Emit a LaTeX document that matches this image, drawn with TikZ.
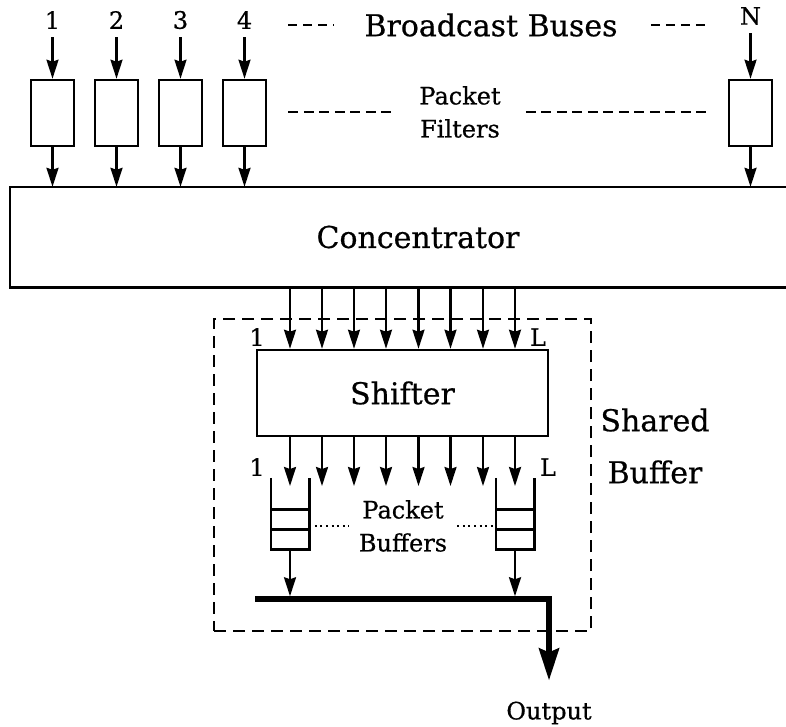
\documentclass[tikz,border=0pt]{standalone}
\usepackage{fontspec}
\setmainfont{DejaVu Serif}[FakeBold=0.6]
\usetikzlibrary{arrows.meta}
\begin{document}
\begin{tikzpicture}[x=1pt,y=-1pt,
  big/.style={font=\fontsize{30}{52}\selectfont, inner sep=0pt},
  small/.style={font=\fontsize{24}{33}\selectfont, inner sep=0pt, align=center},
  filterbox/.style={draw, line width=2.6pt, minimum width=43pt, minimum height=66pt, inner sep=0pt},
  arr/.style={line width=2.3pt, -{Stealth[length=19pt,width=12pt,inset=2pt]}},
  dashtop/.style={line width=2.6pt, dash pattern=on 9pt off 6pt},
  dashmid/.style={line width=2.6pt, dash pattern=on 10pt off 5.5pt},
  dotline/.style={line width=2.2pt, dash pattern=on 2pt off 3.6pt},
  bufbox/.style={minimum width=38pt, minimum height=71pt, inner sep=0pt},
  solid2/.style={line width=2.6pt},
  bus/.style={line width=5.5pt},
]
\useasboundingbox (0,0) rectangle (786,726);

% broadcast bus labels and packet filters
\foreach \i/\x in {1/52.5,2/116.5,3/180.5,4/244.5}{
  \node[small] (l\i) at (\x,20) {\i};
  \node[filterbox] (f\i) at (\x,113) {};
}
\node[small] (lN) at (750.5,16) {N};
\node[filterbox] (fN) at (750.5,113) {};
\node[big] (bb) at (491,25) {Broadcast Buses};
\node[small] (pf) at (460,112) {Packet\\Filters};

% concentrator (open on the right)
\node[minimum width=776pt, minimum height=100pt, inner sep=0pt] (conc) at (398,237) {};
\node[big] (conct) at (418,237) {Concentrator};
\draw[solid2] (conc.north east) -- (conc.north west) -- (conc.south west) -- (conc.south east);

\foreach \i in {1,2,3,4,N}{
  \draw[arr, shorten <=8pt] (l\i.south) -- (f\i.north);
  \draw[arr] (f\i.south) -- (f\i.south |- conc.north);
}
\draw[dashtop, shorten <=21pt, shorten >=30pt] (f4.east |- bb.west) -- (bb.west);
\draw[dashtop, shorten <=33pt, shorten >=22pt] (bb.east) -- (fN.west |- bb.east);
\draw[dashmid, shorten <=21pt, shorten >=25pt] (f4.east |- pf.west) -- (pf.west);
\draw[dashmid, shorten <=25pt, shorten >=22pt] (pf.east) -- (fN.west |- pf.east);

% shared buffer
\node[draw, line width=2.4pt, dash pattern=on 12pt off 7pt, minimum width=377pt, minimum height=312pt, inner sep=0pt] (sb) at (402.5,475) {};
\node[big, align=center] (sbl) at (655,446) {Shared\\Buffer};
\node[draw, solid2, big, minimum width=291pt, minimum height=86pt] (shifter) at (402.5,393) {Shifter};

\node[small] (in1) at (257,337) {1};
\node[small] (inL) at (538,337) {L};
\node[small] (out1) at (257,467) {1};
\node[small] (outL) at (548,467) {L};

\coordinate (tipline) at (0,486);
\foreach \i/\x in {1/290,2/322,3/354,4/386,5/418.5,6/450.5,7/483,8/515}{
  \coordinate (col\i) at (\x,0);
  \draw[arr] (col\i |- conc.south) -- (col\i |- shifter.north);
  \draw[arr] (col\i |- shifter.south) -- (col\i |- tipline);
}

% packet buffers
\node[bufbox] (qa) at (290,513.5) {};
\node[bufbox] (qb) at (515,513.5) {};
\foreach \q in {qa,qb}{
  \draw[solid2] (\q.north west) -- (\q.south west) -- (\q.south east) -- (\q.north east);
  \draw[solid2] ([yshift=20pt]\q.south west) -- ([yshift=20pt]\q.south east);
  \draw[solid2] ([yshift=40pt]\q.south west) -- ([yshift=40pt]\q.south east);
}
\node[small] (pb) at (403,526) {Packet\\Buffers};
\draw[dotline, shorten >=10pt] (qa.east |- pb.west) -- (pb.west);
\draw[dotline, shorten <=10pt] (pb.east) -- (qb.west |- pb.east);

% output bus
\coordinate (busL) at (255,599);
\coordinate (busR) at (549,599);
\node[small] (out) at (549,713) {Output};
\draw[arr] (qa.south) -- ([yshift=2.75pt]qa.south |- busL);
\draw[arr] (qb.south) -- ([yshift=2.75pt]qb.south |- busL);
\draw[bus, -{Stealth[length=32pt,width=20pt,inset=4pt]}, shorten >=21pt] (busL) -- (busR) -- (out.north);
\end{tikzpicture}
\end{document}
